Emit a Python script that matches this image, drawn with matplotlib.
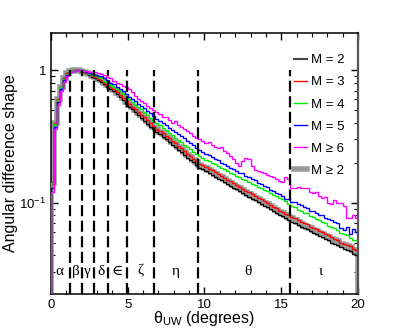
import numpy as np
import matplotlib as mpl
mpl.use('Agg')
import matplotlib.pyplot as plt
from matplotlib.ticker import LogLocator, NullFormatter, MultipleLocator
from matplotlib.lines import Line2D

plt.rcParams['font.family'] = ['Liberation Sans', 'DejaVu Sans']
plt.rcParams['mathtext.fontset'] = 'custom'
plt.rcParams['mathtext.rm'] = 'Liberation Sans'
plt.rcParams['mathtext.it'] = 'Liberation Sans'

binWidth = 0.2

# histogram shapes, one value per 0.2 degree bin, 0..20 deg
m2 = [0.14, 0.40, 0.60, 0.75, 0.87, 0.95, 0.99, 1.00, 1.00, 0.99,
      0.97, 0.95, 0.92, 0.89, 0.87, 0.84, 0.82, 0.78, 0.75, 0.72,
      0.69, 0.655, 0.625, 0.595, 0.555, 0.53, 0.505, 0.48, 0.455, 0.435, 0.415, 0.395, 0.375, 0.358, 0.342,
      0.327, 0.313, 0.30, 0.287, 0.274, 0.262, 0.251, 0.240, 0.229, 0.219, 0.21, 0.201, 0.192, 0.184,
      0.178, 0.172, 0.167, 0.162, 0.157, 0.152, 0.147, 0.143, 0.138, 0.134, 0.130, 0.126, 0.122, 0.118, 0.114,
      0.111, 0.107, 0.104, 0.101, 0.098, 0.095, 0.092, 0.089, 0.086, 0.084, 0.081, 0.079, 0.076, 0.074, 0.072,
      0.070, 0.068, 0.066, 0.064, 0.063, 0.061, 0.059, 0.058, 0.056, 0.055, 0.053, 0.052, 0.050, 0.049, 0.048,
      0.046, 0.045, 0.044, 0.043, 0.041, 0.040]

m3 = [0.14, 0.40, 0.60, 0.75, 0.87, 0.95, 0.99, 1.00, 1.00, 0.99,
      0.97, 0.95, 0.93, 0.90, 0.88, 0.86, 0.84, 0.80, 0.77, 0.745,
      0.715, 0.68, 0.65, 0.62, 0.58, 0.555, 0.53, 0.505, 0.48, 0.46, 0.44, 0.418, 0.398, 0.38, 0.362,
      0.35, 0.335, 0.321, 0.307, 0.293, 0.28, 0.269, 0.257, 0.245, 0.234, 0.225, 0.215, 0.206, 0.197,
      0.192, 0.186, 0.18, 0.175, 0.17, 0.164, 0.159, 0.154, 0.149, 0.145, 0.14, 0.136, 0.132, 0.127, 0.123,
      0.12, 0.116, 0.112, 0.109, 0.106, 0.103, 0.099, 0.096, 0.093, 0.091, 0.087, 0.085, 0.082, 0.08, 0.078,
      0.076, 0.074, 0.072, 0.07, 0.069, 0.066, 0.064, 0.063, 0.061, 0.06, 0.058, 0.057, 0.055, 0.053, 0.052,
      0.05, 0.049, 0.048, 0.047, 0.045, 0.044]

m4 = [0.14, 0.39, 0.59, 0.74, 0.86, 0.94, 0.98, 1.00, 1.00, 0.99,
      0.98, 0.965, 0.94, 0.915, 0.90, 0.88, 0.865, 0.83, 0.80, 0.775,
      0.75, 0.72, 0.69, 0.66, 0.625, 0.60, 0.575, 0.55, 0.525, 0.505, 0.48, 0.46, 0.435, 0.415, 0.40,
      0.383, 0.367, 0.352, 0.338, 0.324, 0.31, 0.298, 0.286, 0.274, 0.263, 0.253, 0.243, 0.232, 0.223,
      0.217, 0.21, 0.205, 0.199, 0.194, 0.188, 0.182, 0.179, 0.173, 0.168, 0.165, 0.16, 0.155, 0.151, 0.147,
      0.143, 0.139, 0.135, 0.132, 0.129, 0.125, 0.122, 0.118, 0.115, 0.112, 0.108, 0.106, 0.103, 0.098, 0.095,
      0.092, 0.088, 0.087, 0.083, 0.083, 0.079, 0.078, 0.075, 0.074, 0.071, 0.07, 0.067, 0.066, 0.064, 0.062,
      0.059, 0.058, 0.057, 0.054, 0.052, 0.052]

m5 = [0.13, 0.37, 0.57, 0.72, 0.84, 0.92, 0.97, 0.99, 1.00, 1.00,
      0.98, 0.97, 0.95, 0.935, 0.92, 0.91, 0.895, 0.87, 0.835, 0.805,
      0.78, 0.745, 0.72, 0.69, 0.66, 0.63, 0.605, 0.585, 0.555, 0.535, 0.515, 0.49, 0.475, 0.45, 0.43,
      0.415, 0.40, 0.385, 0.368, 0.356, 0.34, 0.332, 0.316, 0.305, 0.29, 0.284, 0.27, 0.258, 0.25,
      0.24, 0.233, 0.227, 0.22, 0.212, 0.21, 0.20, 0.196, 0.19, 0.183, 0.18, 0.174, 0.168, 0.166, 0.158,
      0.156, 0.15, 0.147, 0.141, 0.139, 0.133, 0.131, 0.125, 0.123, 0.118, 0.116, 0.112, 0.107, 0.106, 0.102,
      0.101, 0.097, 0.096, 0.092, 0.091, 0.087, 0.086, 0.083, 0.081, 0.08, 0.077, 0.075, 0.074, 0.071, 0.07,
      0.064, 0.062, 0.066, 0.058, 0.063, 0.06]

m6 = [0.12, 0.36, 0.55, 0.70, 0.82, 0.91, 0.96, 0.99, 1.00, 1.00,
      0.99, 0.985, 0.97, 0.96, 0.965, 0.95, 0.94, 0.92, 0.89, 0.87,
      0.83, 0.80, 0.79, 0.76, 0.74, 0.72, 0.68, 0.64, 0.60, 0.58, 0.56, 0.54, 0.52, 0.50, 0.48,
      0.465, 0.44, 0.445, 0.42, 0.40, 0.41, 0.385, 0.37, 0.36, 0.345, 0.335, 0.32, 0.31, 0.30,
      0.29, 0.28, 0.285, 0.27, 0.262, 0.258, 0.265, 0.245, 0.238, 0.225, 0.215, 0.20, 0.19, 0.205, 0.218,
      0.215, 0.19, 0.175, 0.172, 0.17, 0.168, 0.162, 0.158, 0.155, 0.152, 0.145, 0.142, 0.155, 0.152, 0.128,
      0.128, 0.132, 0.13, 0.128, 0.13, 0.12, 0.118, 0.12, 0.112, 0.108, 0.11, 0.10, 0.098, 0.105, 0.10,
      0.10, 0.095, 0.076, 0.076, 0.08, 0.077]

mAll = [0.14, 0.40, 0.60, 0.75, 0.87, 0.95, 0.99, 1.00, 1.00, 0.99,
        0.975, 0.955, 0.93, 0.90, 0.88, 0.855, 0.835, 0.80, 0.77, 0.74,
        0.71, 0.675, 0.645, 0.615, 0.575, 0.55, 0.525, 0.50, 0.475, 0.455, 0.435, 0.413, 0.393, 0.375, 0.358,
        0.343, 0.328, 0.315, 0.301, 0.288, 0.275, 0.264, 0.252, 0.241, 0.23, 0.221, 0.211, 0.202, 0.193,
        0.187, 0.181, 0.175, 0.17, 0.165, 0.16, 0.155, 0.15, 0.145, 0.141, 0.137, 0.132, 0.128, 0.124, 0.12,
        0.117, 0.113, 0.109, 0.106, 0.103, 0.1, 0.097, 0.094, 0.091, 0.088, 0.085, 0.083, 0.08, 0.078, 0.076,
        0.074, 0.072, 0.069, 0.067, 0.066, 0.064, 0.062, 0.061, 0.059, 0.058, 0.056, 0.055, 0.053, 0.052, 0.051,
        0.049, 0.048, 0.047, 0.046, 0.044, 0.043]

# region boundaries (deg) and labels
cuts = [1.24, 2.02, 2.82, 3.73, 4.95, 6.70, 9.55, 15.6]
regionNames = ['α', 'β', 'γ', 'δ', '∈', 'ζ', 'η', 'θ', 'ι']
regionX = [0.55, 1.63, 2.38, 3.25, 4.3, 5.8, 8.15, 12.8, 17.55]

labels = ['M = 2', 'M = 3', 'M = 4', 'M = 5', 'M ≥ 6', 'M ≥ 2']

yLo, yHi = 0.0205, 1.9

fig = plt.figure(figsize=(3.99, 3.28), dpi=100)
ax = fig.add_axes([0.128, 0.104, 0.769, 0.795])

def stairs(vals, color, lw, z):
    edges = np.arange(len(vals) + 1) * binWidth
    ax.stairs(vals, edges, baseline=yLo, color=color, lw=lw, zorder=z)

stairs(mAll, '#9a9a9a', 4.0, 2)
stairs(m2, 'black', 1.0, 3)
stairs(m3, '#ff0000', 1.0, 4)
stairs(m4, '#00ee00', 1.0, 5)
stairs(m5, '#0000ff', 1.0, 6)
stairs(m6, '#ff00ff', 1.0, 7)

ax.vlines(cuts, yLo, 1.0, colors='black', lw=1.6, linestyles=(0, (5, 2)), zorder=8)
for nm, x in zip(regionNames, regionX):
    ax.text(x, 0.0305, nm, ha='center', va='center', fontsize=11,
            family=['Liberation Serif', 'DejaVu Serif'], zorder=9)

ax.set_yscale('log')
ax.set_xlim(0, 20)
ax.set_ylim(yLo, yHi)
ax.xaxis.set_major_locator(MultipleLocator(5))
ax.xaxis.set_minor_locator(MultipleLocator(1))
ax.set_yticks([0.1, 1], [r'$10^{-1}$', '1'])
ax.yaxis.set_minor_locator(LogLocator(base=10, subs=np.arange(2, 10)))
ax.yaxis.set_minor_formatter(NullFormatter())
ax.tick_params(which='both', direction='in', top=True, right=True, labelsize=9.5)
ax.tick_params(which='major', length=5, width=1)
ax.tick_params(which='minor', length=3, width=0.8)
for s in ax.spines.values():
    s.set_linewidth(1.1)
ax.spines['right'].set_color('#555555')
ax.spines['right'].set_linewidth(1.6)

ax.set_xlabel(r'$\mathrm{\theta_{UW}}$ (degrees)', fontsize=11.5, labelpad=-1)
ax.set_ylabel('Angular difference shape', fontsize=11.5)
ax.yaxis.set_label_coords(-0.108, 0.5)

handles = [Line2D([], [], color='#444444', lw=1.5),
           Line2D([], [], color='#ff0000', lw=1.0),
           Line2D([], [], color='#00ee00', lw=1.0),
           Line2D([], [], color='#0000ff', lw=1.0),
           Line2D([], [], color='#ff00ff', lw=1.0),
           Line2D([], [], color='#9a9a9a', lw=4.0)]
ax.legend(handles, labels, loc='upper right', bbox_to_anchor=(0.975, 0.94),
          frameon=False, fontsize=9.5, handlelength=1.0, handletextpad=0.3,
          labelspacing=0.75, borderaxespad=0)

fig.savefig('out.png', dpi=100)
